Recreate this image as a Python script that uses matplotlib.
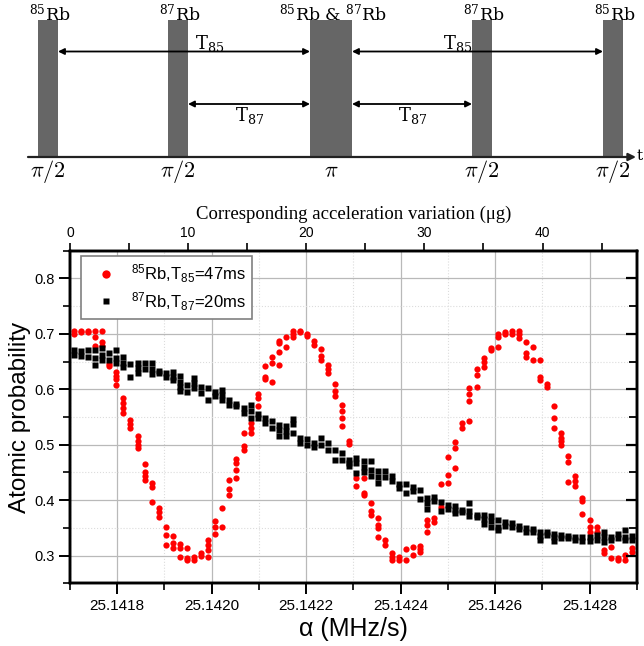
import matplotlib
matplotlib.use('Agg')
import matplotlib.pyplot as plt
from matplotlib.lines import Line2D
from matplotlib.ticker import MultipleLocator, FormatStrFormatter

plt.rcParams['font.family'] = ['Liberation Sans', 'DejaVu Sans']
plt.rcParams['mathtext.fontset'] = 'custom'
plt.rcParams['mathtext.rm'] = 'Liberation Sans'
plt.rcParams['mathtext.it'] = 'Liberation Sans:italic'
plt.rcParams['mathtext.bf'] = 'Liberation Sans:bold'

# scan columns, alpha in MHz/s (same columns for both isotopes)
alpha = [
    25.1417084, 25.1417234, 25.1417383, 25.1417533, 25.1417682,
    25.1417832, 25.1417981, 25.1418131, 25.1418280, 25.1418430,
    25.1418579, 25.1418729, 25.1418878, 25.1419028, 25.1419177,
    25.1419326, 25.1419476, 25.1419625, 25.1419775, 25.1419924,
    25.1420074, 25.1420223, 25.1420373, 25.1420522, 25.1420672,
    25.1420821, 25.1420971, 25.1421120, 25.1421270, 25.1421419,
    25.1421568, 25.1421718, 25.1421867, 25.1422017, 25.1422166,
    25.1422316, 25.1422465, 25.1422615, 25.1422764, 25.1422914,
    25.1423063, 25.1423213, 25.1423362, 25.1423512, 25.1423661,
    25.1423810, 25.1423960, 25.1424109, 25.1424259, 25.1424408,
    25.1424558, 25.1424707, 25.1424857, 25.1425006, 25.1425156,
    25.1425305, 25.1425455, 25.1425604, 25.1425754, 25.1425903,
    25.1426052, 25.1426202, 25.1426351, 25.1426501, 25.1426650,
    25.1426800, 25.1426949, 25.1427099, 25.1427248, 25.1427398,
    25.1427547, 25.1427697, 25.1427846, 25.1427996, 25.1428145,
    25.1428294, 25.1428444, 25.1428593, 25.1428743, 25.1428892,
]

# 85Rb, T85 = 47 ms : repeated shots per column
rb85_prob = [
    [0.706, 0.700], [0.706, 0.704], [0.706, 0.704], [0.706, 0.694, 0.678],
    [0.706, 0.686, 0.678], [0.642, 0.646], [0.632, 0.624, 0.618, 0.608],
    [0.584, 0.575, 0.566, 0.558], [0.545, 0.537, 0.530],
    [0.515, 0.507, 0.500, 0.494], [0.465, 0.450, 0.443, 0.437],
    [0.431, 0.423, 0.396], [0.386, 0.378, 0.370], [0.351, 0.337, 0.319],
    [0.336, 0.322, 0.313], [0.321, 0.313, 0.297], [0.313, 0.295, 0.292],
    [0.297, 0.292], [0.305, 0.299], [0.328, 0.319, 0.310, 0.297],
    [0.363, 0.352, 0.339], [0.386, 0.352], [0.437, 0.420, 0.410],
    [0.474, 0.467, 0.455, 0.440], [0.521, 0.497, 0.491],
    [0.540, 0.531, 0.522], [0.592, 0.584, 0.569], [0.642, 0.623, 0.618],
    [0.658, 0.648, 0.614], [0.688, 0.683, 0.668, 0.644], [0.694, 0.677],
    [0.706, 0.700, 0.694], [0.706, 0.703], [0.700, 0.696], [0.688, 0.680],
    [0.672, 0.660, 0.653], [0.644, 0.636, 0.629], [0.610, 0.597, 0.588],
    [0.572, 0.560, 0.548, 0.533], [0.507, 0.501], [0.440, 0.426],
    [0.440, 0.413, 0.410], [0.395, 0.380, 0.374],
    [0.368, 0.355, 0.350, 0.333], [0.328, 0.319], [0.304, 0.298, 0.292],
    [0.298, 0.292], [0.312, 0.292], [0.316, 0.301], [0.318, 0.312, 0.306],
    [0.364, 0.355, 0.343], [0.368, 0.360], [0.429, 0.387],
    [0.477, 0.446, 0.431], [0.504, 0.494, 0.458], [0.540, 0.531],
    [0.602, 0.592, 0.578, 0.542], [0.636, 0.625, 0.605],
    [0.656, 0.650, 0.641], [0.674, 0.670], [0.700, 0.695, 0.677],
    [0.703, 0.700], [0.706, 0.700], [0.706, 0.700, 0.692],
    [0.686, 0.666, 0.659], [0.676, 0.653], [0.652, 0.623, 0.616],
    [0.610, 0.605], [0.569, 0.548, 0.531], [0.521, 0.513, 0.506, 0.500],
    [0.479, 0.468, 0.433], [0.443, 0.435, 0.426], [0.404, 0.398, 0.375],
    [0.364, 0.352, 0.343], [0.351, 0.342], [0.310, 0.304], [0.315, 0.295],
    [0.295, 0.292], [0.301, 0.292], [0.313, 0.306],
]

# 87Rb, T87 = 20 ms
rb87_prob = [
    [0.671, 0.662], [0.669, 0.660], [0.670, 0.659], [0.671, 0.656, 0.644],
    [0.674, 0.662, 0.652], [0.665, 0.653], [0.671, 0.656, 0.648],
    [0.658, 0.648, 0.640], [0.646, 0.623], [0.647, 0.638, 0.630],
    [0.647, 0.637], [0.648, 0.636, 0.628], [0.633, 0.629], [0.629, 0.623],
    [0.632, 0.623, 0.616], [0.624, 0.614, 0.605, 0.597], [0.607, 0.596],
    [0.620, 0.611, 0.602], [0.605, 0.593], [0.602, 0.581], [0.596, 0.587],
    [0.599, 0.590, 0.581], [0.581, 0.572], [0.574, 0.569], [0.566, 0.557],
    [0.572, 0.560, 0.548], [0.555, 0.548], [0.548, 0.539], [0.542, 0.530],
    [0.536, 0.527, 0.516], [0.533, 0.524, 0.515], [0.546, 0.537, 0.521],
    [0.512, 0.503], [0.510, 0.500], [0.503, 0.496], [0.512, 0.500],
    [0.503, 0.491], [0.491, 0.473], [0.485, 0.473], [0.473, 0.467, 0.461],
    [0.476, 0.467, 0.449], [0.470, 0.459, 0.450], [0.470, 0.455, 0.443],
    [0.452, 0.441, 0.431], [0.453, 0.441], [0.444, 0.435], [0.429, 0.422],
    [0.430, 0.413], [0.423, 0.417], [0.418, 0.402], [0.404, 0.395, 0.384],
    [0.406, 0.399], [0.397, 0.380], [0.392, 0.384], [0.390, 0.383, 0.376],
    [0.383, 0.378], [0.395, 0.380, 0.372], [0.374, 0.369],
    [0.374, 0.366, 0.357], [0.371, 0.362, 0.352], [0.364, 0.352, 0.346],
    [0.360, 0.354], [0.359, 0.352], [0.354, 0.348], [0.350, 0.343],
    [0.348, 0.342], [0.343, 0.336, 0.328], [0.343, 0.337],
    [0.339, 0.333, 0.327], [0.337, 0.331], [0.335, 0.331], [0.334, 0.328],
    [0.333, 0.327], [0.334, 0.327], [0.337, 0.328], [0.343, 0.334, 0.325],
    [0.333, 0.328], [0.339, 0.331], [0.346, 0.334, 0.328], [0.335, 0.328],
]

legend_labels = [r'$^{85}$Rb,T$_{85}$=47ms', r'$^{87}$Rb,T$_{87}$=20ms']

# pulse sketch: names above and pulse areas below each pulse
pulse_names = [r'$^{85}$Rb', r'$^{87}$Rb', r'$^{85}$Rb & $^{87}$Rb',
               r'$^{87}$Rb', r'$^{85}$Rb']
pulse_areas = [r'$\pi/2$', r'$\pi/2$', r'$\pi$', r'$\pi/2$', r'$\pi/2$']

W, H = 644, 646


def flatten(cols):
    xs = [a for a, c in zip(alpha, cols) for _ in c]
    ys = [v for c in cols for v in c]
    return xs, ys


def draw_sequence(fig):
    """pulse sequence sketch on top, drawn in pixel-like units"""
    ax = fig.add_axes([0, 1 - 195 / H, 1, 195 / H])
    ax.set_xlim(0, W)
    ax.set_ylim(195, 0)
    ax.axis('off')

    top, base = 19.5, 157
    centers = [48, 178, 331, 482, 613]
    widths = [20, 20, 42, 20, 20]
    ax.bar(centers, base - top, width=widths, bottom=top, color='#666666', zorder=2)

    serif = dict(family='DejaVu Serif', math_fontfamily='dejavuserif')
    for c, name, area in zip(centers, pulse_names, pulse_areas):
        ax.text(c + 2, top + 0.5, name, ha='center', va='baseline', fontsize=12.5, **serif)
        ax.text(c, 172, area, ha='center', va='center', fontsize=16, math_fontfamily='cm')

    # time axis
    ax.annotate('', xy=(636, base), xytext=(28, base),
                arrowprops=dict(arrowstyle='-|>', lw=1.6, color='#222222',
                                mutation_scale=11, shrinkA=0, shrinkB=0), zorder=3)
    ax.text(636.5, base - 1, 't', ha='left', va='center', fontsize=11, family='DejaVu Serif')

    # interrogation times
    arrow = dict(arrowstyle='<|-|>', lw=1.3, color='black', mutation_scale=9,
                 shrinkA=0, shrinkB=0)
    for x0, x1, y in [(58, 310, 51.5), (352, 603, 51.5), (188, 310, 104), (352, 472, 104)]:
        ax.annotate('', xy=(x1, y), xytext=(x0, y), arrowprops=arrow, zorder=4)
    for x, y in [(210, 44), (458, 44)]:
        ax.text(x, y, r'T$_{85}$', ha='center', va='center', fontsize=13, **serif)
    for x, y in [(250, 116), (413, 116)]:
        ax.text(x, y, r'T$_{87}$', ha='center', va='center', fontsize=13, **serif)


def draw_scan(fig):
    x0, x1, y0, y1 = 70, 637, 250.7, 583.3
    ax = fig.add_axes([x0 / W, 1 - y1 / H, (x1 - x0) / W, (y1 - y0) / H])

    x85, y85 = flatten(rb85_prob)
    x87, y87 = flatten(rb87_prob)
    ax.plot(x85, y85, 'o', color='#ff0000', ms=4.5, mec='none', zorder=3)
    ax.plot(x87, y87, 's', color='black', ms=4.0, mec='none', zorder=4)

    ax.set_xlim(25.1417, 25.1429)
    ax.set_ylim(0.25, 0.85)
    ax.xaxis.set_major_locator(MultipleLocator(0.0002))
    ax.xaxis.set_minor_locator(MultipleLocator(0.0001))
    ax.xaxis.set_major_formatter(FormatStrFormatter('%.4f'))
    ax.yaxis.set_major_locator(MultipleLocator(0.1))
    ax.yaxis.set_minor_locator(MultipleLocator(0.05))
    ax.yaxis.set_major_formatter(FormatStrFormatter('%.1f'))

    ax.grid(which='major', color='#b9b9b9', lw=0.9, zorder=0)
    ax.grid(which='minor', color='#dcdcdc', lw=0.8, ls=':', zorder=0)
    ax.set_axisbelow(True)

    ax.tick_params(axis='x', which='major', direction='out', length=8, width=1.4,
                   labelsize=11, pad=3)
    ax.tick_params(axis='x', which='minor', direction='out', length=5, width=1.2)
    ax.tick_params(axis='y', which='major', direction='out', length=8, width=1.4,
                   labelsize=10.5, pad=3)
    ax.tick_params(axis='y', which='minor', direction='out', length=5, width=1.2)

    ax.set_xlabel('\u03b1 (MHz/s)', fontsize=18)
    ax.xaxis.set_label_coords(0.5, -0.1)
    ax.set_ylabel('Atomic probability', fontsize=17.5)
    ax.yaxis.set_label_coords(-0.068, 0.5)

    # top axis: acceleration variation
    axt = ax.twiny()
    axt.set_xlim(0, 48)
    axt.xaxis.set_major_locator(MultipleLocator(10))
    axt.xaxis.set_minor_locator(MultipleLocator(5))
    axt.tick_params(axis='x', which='both', direction='out', length=6, width=1.2,
                    labelsize=10, pad=2)
    axt.set_xlabel('Corresponding acceleration variation (\u03bcg)', fontsize=13.5,
                   family=['Liberation Serif', 'DejaVu Serif'])
    axt.xaxis.set_label_coords(0.5, 1.097)

    # right side ticks pointing in
    axr = ax.twinx()
    axr.set_ylim(ax.get_ylim())
    axr.yaxis.set_major_locator(MultipleLocator(0.1))
    axr.yaxis.set_minor_locator(MultipleLocator(0.05))
    axr.tick_params(axis='y', which='major', direction='in', length=8, width=1.6,
                    labelright=False)
    axr.tick_params(axis='y', which='minor', direction='in', length=6, width=1.3,
                    labelright=False)

    for a in (ax, axt, axr):
        for s in a.spines.values():
            s.set_linewidth(1.7)
            s.set_color('black')

    handles = [Line2D([], [], ls='none', marker='o', color='#ff0000', ms=6, mec='none'),
               Line2D([], [], ls='none', marker='s', color='black', ms=5, mec='none')]
    leg = axr.legend(handles, legend_labels, loc='upper left',
                     bbox_to_anchor=(80.7 / W, 1 - 255.7 / H),
                     bbox_transform=fig.transFigure, borderaxespad=0,
                     fontsize=12, frameon=True, fancybox=False, framealpha=1,
                     edgecolor='#808080', handlelength=2.2, handletextpad=0.4,
                     borderpad=0.4, labelspacing=0.3)
    leg.get_frame().set_linewidth(1.2)
    leg.set_zorder(10)


if __name__ == "__main__":
    fig = plt.figure(figsize=(W / 100, H / 100), dpi=100)
    draw_sequence(fig)
    draw_scan(fig)
    fig.savefig('out.png', dpi=100)
